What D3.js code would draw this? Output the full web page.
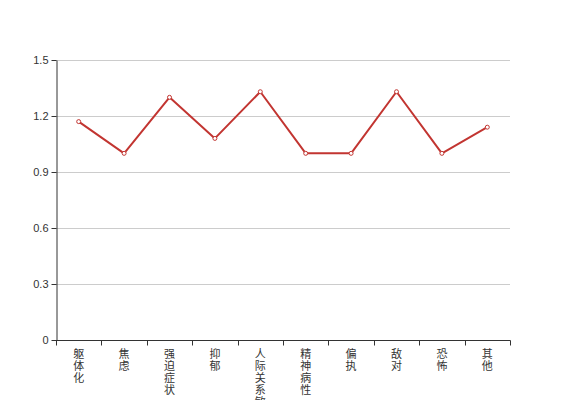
<!DOCTYPE html>
<html><head><meta charset="utf-8">
<script src="https://cdn.jsdelivr.net/npm/d3@7"></script>
<style>body{margin:0;background:#fff;}svg{display:block;font-family:"Noto Sans CJK SC","DejaVu Sans",sans-serif;}</style>
</head><body>
<svg id="c" width="567" height="400"></svg>
<script>
const categories = ["躯体化","焦虑","强迫症状","抑郁","人际关系敏感","精神病性","偏执","敌对","恐怖","其他"];
const values = [1.17, 1.0, 1.30, 1.08, 1.33, 1.0, 1.0, 1.33, 1.0, 1.14];
const yTicks = [0, 0.3, 0.6, 0.9, 1.2, 1.5];

const svg = d3.select("#c");
const mLeft = 56, mRight = 510, mTop = 60, mBottom = 340;
const x = d3.scaleBand().domain(categories).range([mLeft, mRight]);
const y = d3.scaleLinear().domain([0, 1.5]).range([mBottom, mTop]);

// gridlines
svg.append("g").selectAll("line").data(yTicks.filter(d => d > 0)).join("line")
  .attr("x1", mLeft).attr("x2", mRight)
  .attr("y1", d => Math.round(y(d)) + 0.5).attr("y2", d => Math.round(y(d)) + 0.5)
  .attr("stroke", "#ccc").attr("stroke-width", 1);

// y axis
const ya = svg.append("g").attr("transform", `translate(${mLeft + 0.5},0)`)
  .call(d3.axisLeft(y).tickValues(yTicks).tickFormat(d => d === 0 ? "0" : d3.format(".1f")(d)).tickSize(5).tickSizeOuter(0));
ya.select(".domain").attr("stroke", "#333");
ya.selectAll(".tick line").attr("stroke", "#333");
ya.selectAll(".tick text").attr("fill", "#333").attr("font-size", 11).attr("font-family", "Liberation Sans, Arial, sans-serif").attr("x", -8);

// x axis
const xa = svg.append("g").attr("transform", `translate(0,${mBottom + 0.5})`);
xa.append("line").attr("x1", mLeft).attr("x2", mRight + 0.5).attr("stroke", "#333");
const bounds = categories.map(c => x(c)).concat([mRight]);
xa.selectAll("line.t").data(bounds).join("line").attr("class","t")
  .attr("x1", d => Math.round(d) + 0.5).attr("x2", d => Math.round(d) + 0.5)
  .attr("y1", 0).attr("y2", 5).attr("stroke", "#333");
const lab = xa.selectAll("text").data(categories).join("text")
  .attr("fill", "#333").attr("font-size", 11).attr("text-anchor", "middle")
  .attr("transform", d => `translate(${x(d) + x.bandwidth()/2},0)`);
lab.selectAll("tspan").data(d => Array.from(d)).join("tspan")
  .attr("x", 0).attr("y", (d, i) => 17 + i * 12).text(d => d);

// line
const cx = d => x(d) + x.bandwidth()/2;
const pts = categories.map((c, i) => [cx(c), y(values[i])]);
svg.append("path").attr("d", d3.line()(pts)).attr("fill", "none")
  .attr("stroke", "#c23531").attr("stroke-width", 2).attr("stroke-linejoin", "round");
svg.append("g").selectAll("circle").data(pts).join("circle")
  .attr("cx", d => d[0]).attr("cy", d => d[1]).attr("r", 2)
  .attr("fill", "#fff").attr("stroke", "#c23531").attr("stroke-width", 1);
</script>
</body></html>
